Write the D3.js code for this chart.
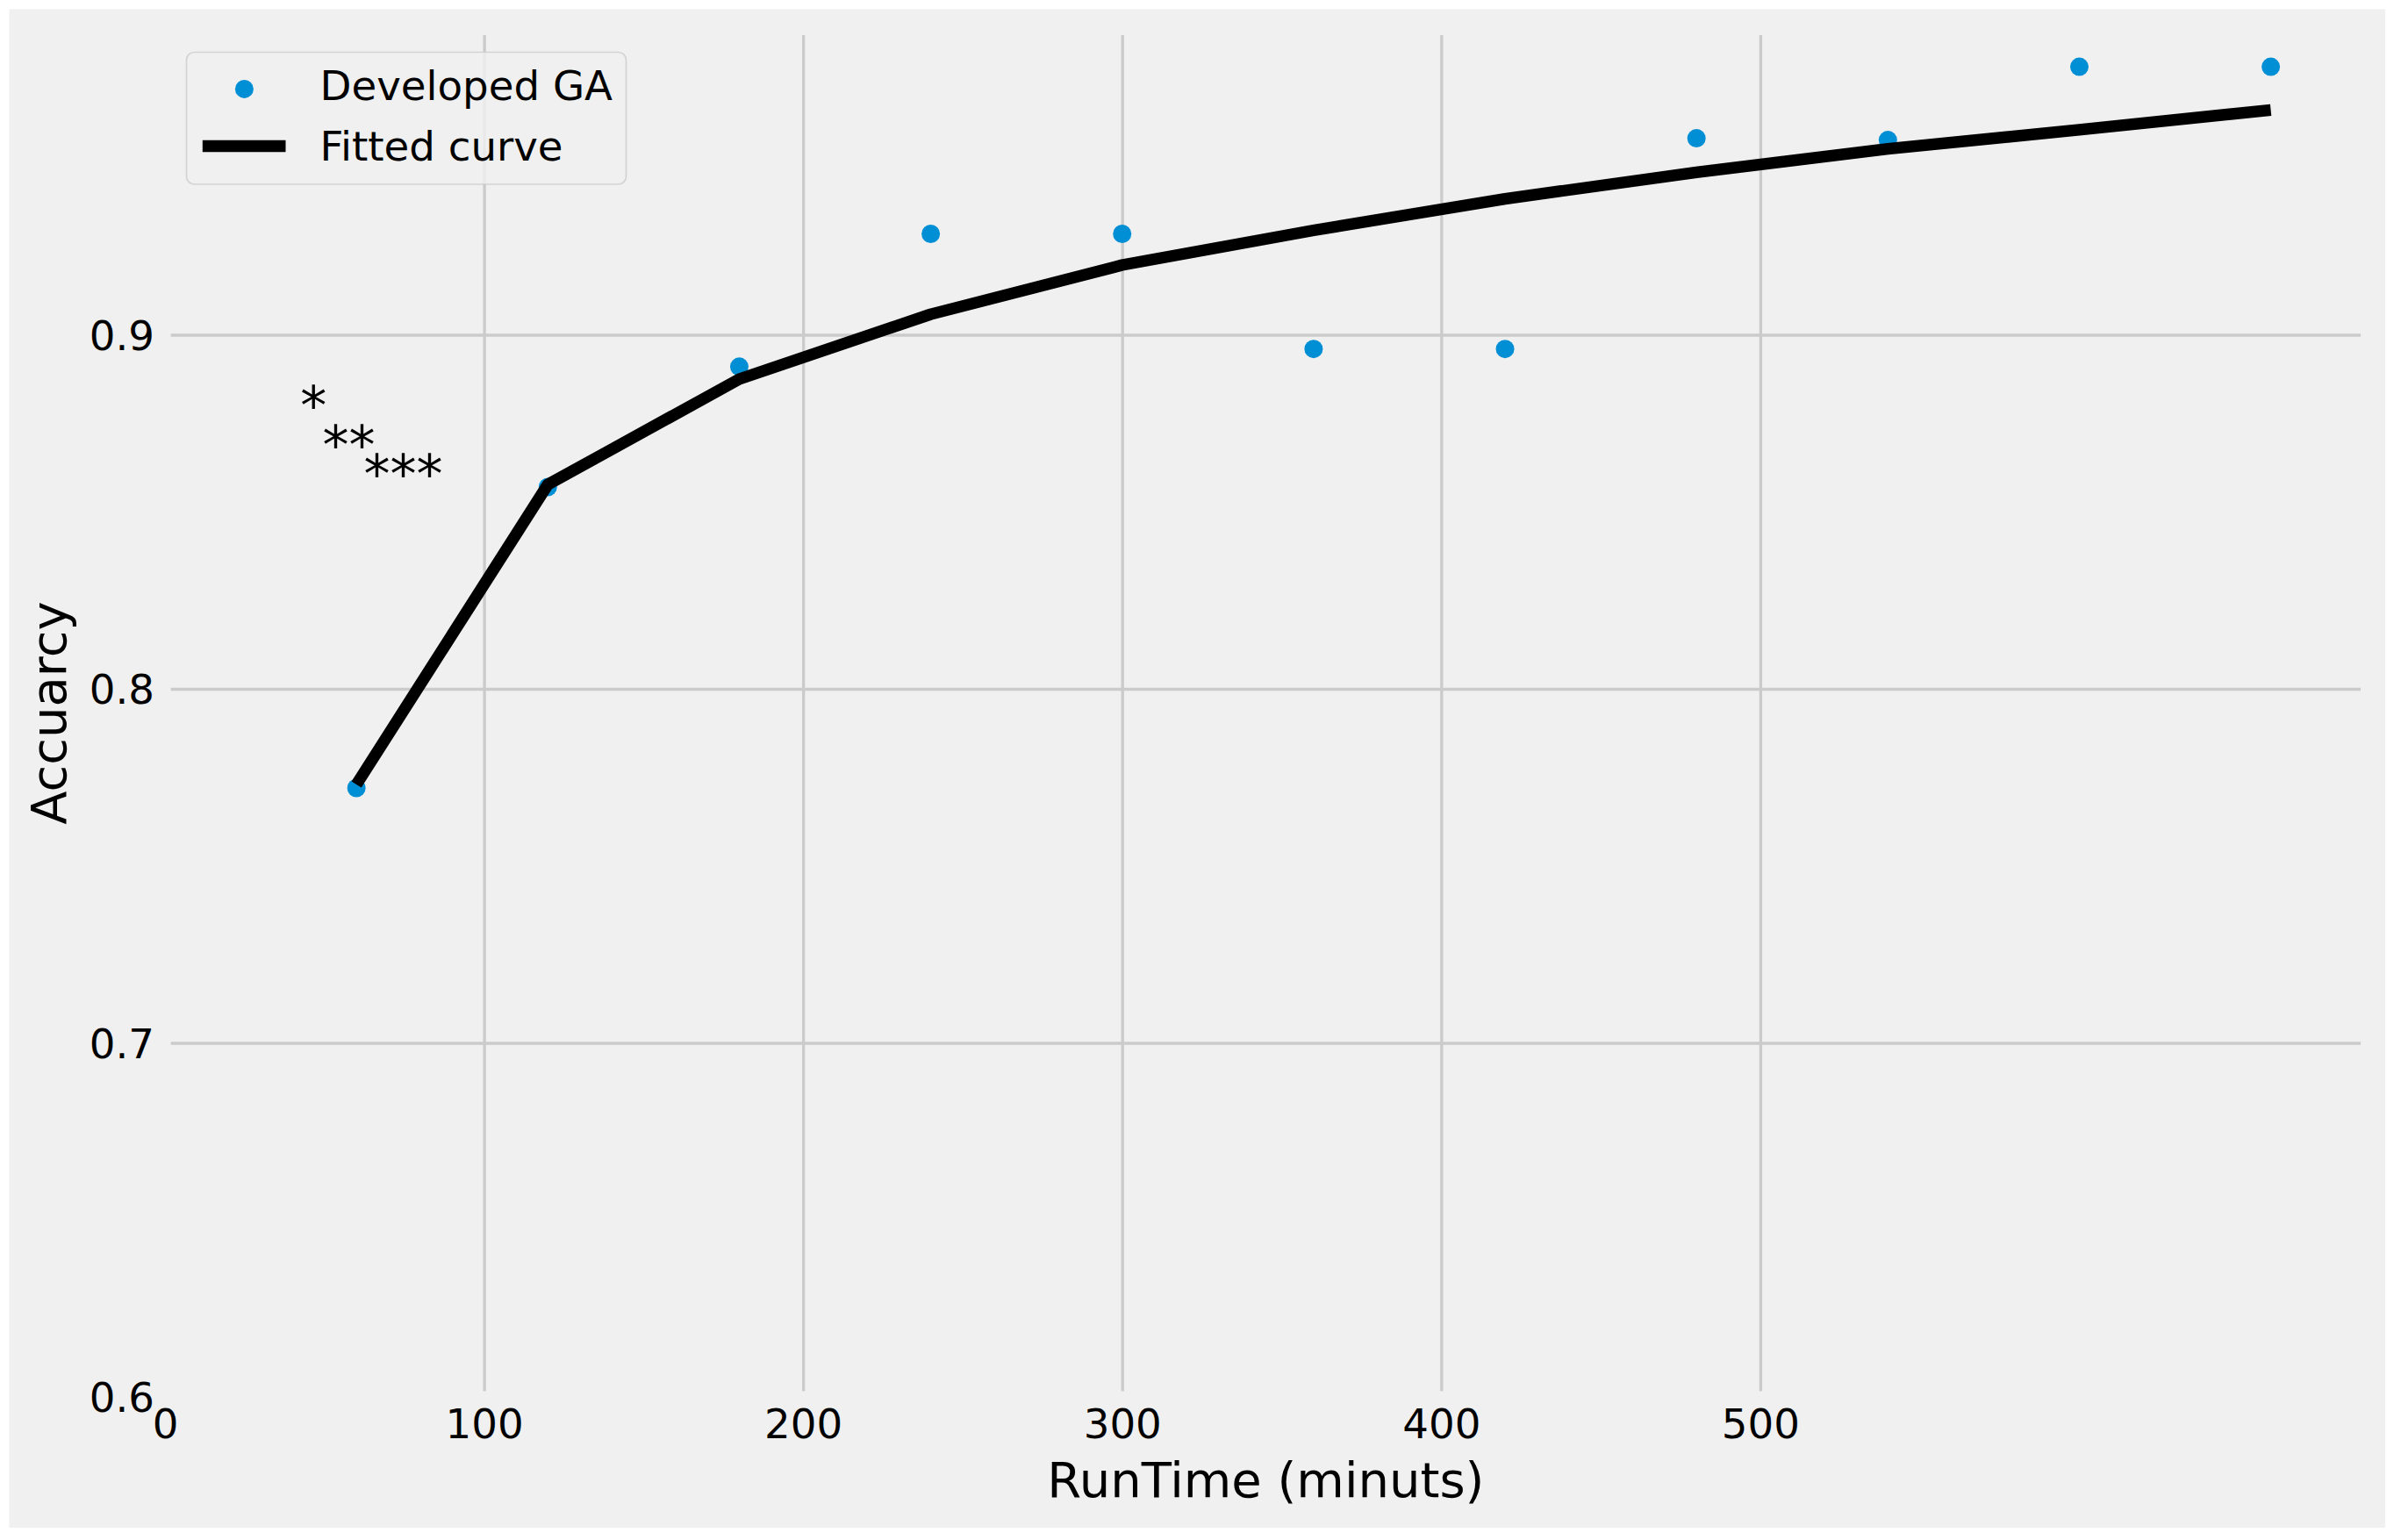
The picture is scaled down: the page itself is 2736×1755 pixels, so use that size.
<!DOCTYPE html>
<html>
<head>
<meta charset="utf-8">
<script src="https://cdn.jsdelivr.net/npm/d3@7"></script>
<style>
  body { margin: 0; background: #ffffff; }
  text { font-family: "DejaVu Sans", sans-serif; fill: #000000; }
</style>
</head>
<body>
<div id="chart"></div>
<script>
// values
const runTime = [60, 120, 180, 240, 300, 360, 420, 480, 540, 600, 660];
const accuracy = [0.772, 0.857, 0.891, 0.9285, 0.9285, 0.896, 0.896, 0.9555, 0.955, 0.9757, 0.9757];
const fitted = [0.773, 0.8577, 0.8875, 0.9058, 0.9197, 0.9295, 0.9384, 0.9459, 0.9525, 0.9579, 0.9635];
const xTicks = [0, 100, 200, 300, 400, 500];
const yTicks = [0.6, 0.7, 0.8, 0.9];
const legendLabels = ["Developed GA", "Fitted curve"];
// the star notes: [x, y, text] in data units
const starNotes = [
  [42.4, 0.8749, "*"],
  [49.4, 0.8638, "**"],
  [62.3, 0.8556, "***"]
];

function drawChart() {
  const W = 2736, H = 1755;
  const margin = { top: 33.3, left: 188 };
  const width = 2508.7;
  const height = 1558.7;
  const bg = "#f0f0f0";

  const root = d3
    .select("#chart")
    .append("svg")
    .attr("width", W)
    .attr("height", H);

  // figure background
  root
    .append("rect")
    .attr("x", 10.5)
    .attr("y", 10.5)
    .attr("width", 2707.5)
    .attr("height", 1730.5)
    .attr("fill", bg);

  const svg = root
    .append("g")
    .attr("transform", `translate(${margin.left},${margin.top})`);

  const xScale = d3.scaleLinear().domain([0, 690]).range([0, width]);
  const yScale = d3.scaleLinear().domain([0.6, 0.9863]).range([height, 0]);

  // x axis with grid
  const xAxis = svg
    .append("g")
    .attr("transform", `translate(0,${height})`)
    .call(
      d3.axisBottom(xScale)
        .tickValues(xTicks)
        .tickSize(-height)
        .tickPadding(14)
        .tickFormat(d3.format("d"))
    );

  // y axis with grid
  const yAxis = svg
    .append("g")
    .call(
      d3.axisLeft(yScale)
        .tickValues(yTicks)
        .tickSize(-width)
        .tickPadding(12)
        .tickFormat(d3.format(".1f"))
    );

  [xAxis, yAxis].forEach(ax => {
    ax.select(".domain").remove();
    ax.selectAll(".tick line")
      .attr("stroke", "#cbcbcb")
      .attr("stroke-width", 3.33);
    ax.selectAll(".tick text")
      .style("font-size", "46.7px")
      .style("font-family", "DejaVu Sans, sans-serif")
      .attr("fill", "#000");
  });
  yAxis.selectAll(".tick text").attr("dy", "0.36em");

  // spines are drawn in background colour over the grid ends
  svg
    .append("rect")
    .attr("x", 0)
    .attr("y", 0)
    .attr("width", width)
    .attr("height", height)
    .attr("fill", "none")
    .attr("stroke", bg)
    .attr("stroke-width", 13.3);

  const points = runTime.map((t, i) => ({ t: t, acc: accuracy[i], fit: fitted[i] }));

  // scatter
  svg
    .selectAll(".dot")
    .data(points)
    .enter()
    .append("circle")
    .attr("class", "dot")
    .attr("cx", d => xScale(d.t))
    .attr("cy", d => yScale(d.acc))
    .attr("r", 10.5)
    .attr("fill", "#008fd5");

  // fitted curve
  const line = d3.line()
    .x(d => xScale(d.t))
    .y(d => yScale(d.fit));

  svg
    .append("path")
    .datum(points)
    .attr("d", line)
    .attr("fill", "none")
    .attr("stroke", "#000")
    .attr("stroke-width", 13.3)
    .attr("stroke-linejoin", "round")
    .attr("stroke-linecap", "butt");

  // star notes
  svg
    .selectAll(".star")
    .data(starNotes)
    .enter()
    .append("text")
    .attr("class", "star")
    .attr("x", d => xScale(d[0]))
    .attr("y", d => yScale(d[1]))
    .style("font-size", "60px")
    .text(d => d[2]);

  // axis labels
  root
    .append("text")
    .attr("x", margin.left + width / 2)
    .attr("y", 1706)
    .attr("text-anchor", "middle")
    .style("font-size", "56px")
    .text("RunTime (minuts)");

  root
    .append("text")
    .attr("transform", `translate(75,${margin.top + height / 2}) rotate(-90)`)
    .attr("text-anchor", "middle")
    .style("font-size", "56px")
    .text("Accuarcy");

  // legend
  const legend = root.append("g");
  legend
    .append("rect")
    .attr("x", 212.5)
    .attr("y", 59.5)
    .attr("width", 501)
    .attr("height", 150.5)
    .attr("rx", 9)
    .attr("fill", bg)
    .attr("fill-opacity", 0.8)
    .attr("stroke", "#cccccc")
    .attr("stroke-opacity", 0.8)
    .attr("stroke-width", 1.7);

  legend
    .append("circle")
    .attr("cx", 278.4)
    .attr("cy", 101.4)
    .attr("r", 10.5)
    .attr("fill", "#008fd5");

  legend
    .append("line")
    .attr("x1", 230.8)
    .attr("x2", 325.5)
    .attr("y1", 166.5)
    .attr("y2", 166.5)
    .attr("stroke", "#000")
    .attr("stroke-width", 13.3);

  legend
    .selectAll(".legend-label")
    .data(legendLabels)
    .enter()
    .append("text")
    .attr("class", "legend-label")
    .attr("x", 364.5)
    .attr("y", (d, i) => 113.7 + i * 69.5)
    .style("font-size", "46.7px")
    .text(d => d);
}

drawChart();
</script>
</body>
</html>
